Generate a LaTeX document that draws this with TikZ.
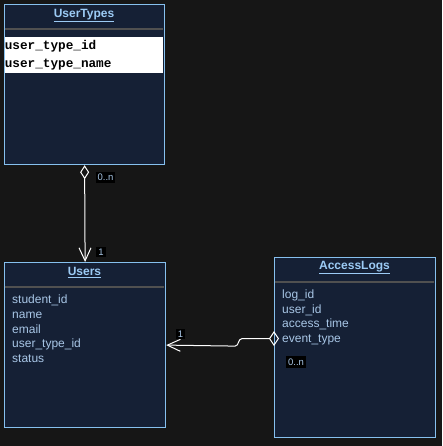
\documentclass[tikz,border=0pt]{standalone}
\usepackage{fontspec}
\setmainfont{Liberation Sans}
\newfontfamily\monofont{Liberation Mono}
\usetikzlibrary{arrows.meta}
\definecolor{bgc}{HTML}{161616}
\definecolor{boxfill}{HTML}{152035}
\definecolor{boxline}{HTML}{86C0EE}
\definecolor{titlec}{HTML}{9CCBF5}
\definecolor{attrc}{HTML}{A8C6E6}
\definecolor{sepc}{HTML}{505050}
\tikzset{
  tbl/.style={draw=boxline, fill=boxfill, line width=1.2pt, inner sep=0pt, anchor=north west},
  ttl/.style={text=titlec, font=\fontsize{12}{14}\selectfont\bfseries, inner sep=0pt},
  attr/.style={text=attrc, font=\fontsize{12}{14}\selectfont, anchor=west, inner sep=0pt},
  monoattr/.style={text=black, font=\monofont\fontsize{12.7}{14}\selectfont\bfseries, anchor=west, inner sep=0pt},
  sep/.style={draw=sepc, line width=1.6pt},
  conn/.style={draw=white, line width=1pt},
  mult/.style={fill=black, text=attrc, font=\fontsize{9.5}{11}\selectfont, inner xsep=2pt, inner ysep=2.2pt},
  dia/.tip={Diamond[open, length=14pt, width=9pt, line width=1pt]},
  diah/.tip={Diamond[open, length=10pt, width=15pt, line width=1pt]},
  barb/.tip={Straight Barb[length=13pt, width=12pt, line width=1pt]}
}
\begin{document}
\begin{tikzpicture}[x=1pt,y=-1pt]
\fill[bgc] (0,0) rectangle (442,446);
\useasboundingbox (0,0) rectangle (442,446);
% UserTypes
\node[tbl, minimum width=160pt, minimum height=160pt] (ut) at (4,4) {};
\node[ttl] (utt) at (84,15.5) {\underline{UserTypes}};
\draw[sep] (4.6,29) -- (163.4,29);
\fill[white] (4.6,37) rectangle (163.4,73);
\node[monoattr] (ut1) at (4.6,46) {user\_type\_id};
\node[monoattr] (ut2) at (4.6,64.5) {user\_type\_name};
% Users
\node[tbl, minimum width=161pt, minimum height=165pt] (us) at (4,262) {};
\node[ttl] (ust) at (84.5,272.5) {\underline{Users}};
\draw[sep] (4.6,287) -- (164.4,287);
\node[attr] (us1) at (12,300.5) {student\_id};
\node[attr] (us2) at (12,315.5) {name};
\node[attr] (us3) at (12,329.5) {email};
\node[attr] (us4) at (12,344.5) {user\_type\_id};
\node[attr] (us5) at (12,358.5) {status};
% AccessLogs
\node[tbl, minimum width=161pt, minimum height=180pt] (al) at (274,257) {};
\node[ttl] (alt) at (354.5,267.5) {\underline{AccessLogs}};
\draw[sep] (274.6,282) -- (434.4,282);
\node[attr] (al1) at (282,295.5) {log\_id};
\node[attr] (al2) at (282,310.5) {user\_id};
\node[attr] (al3) at (282,324.5) {access\_time};
\node[attr] (al4) at (282,339.5) {event\_type};
% connectors
\draw[conn, dia-barb] (ut.south) -- (us.north);
\draw[conn, diah-barb] ([xshift=5pt,yshift=9pt]al.west) -- ++(-37,0) to[out=180,in=0] ++(-7,7.5) -- (us.east);
% multiplicities
\node[mult] (m1) at (105.5,177.5) {0..n};
\node[mult] (m2) at (101,252) {1};
\node[mult] (m3) at (180.5,334) {1};
\node[mult] (m4) at (296,362) {0..n};
\end{tikzpicture}
\end{document}
